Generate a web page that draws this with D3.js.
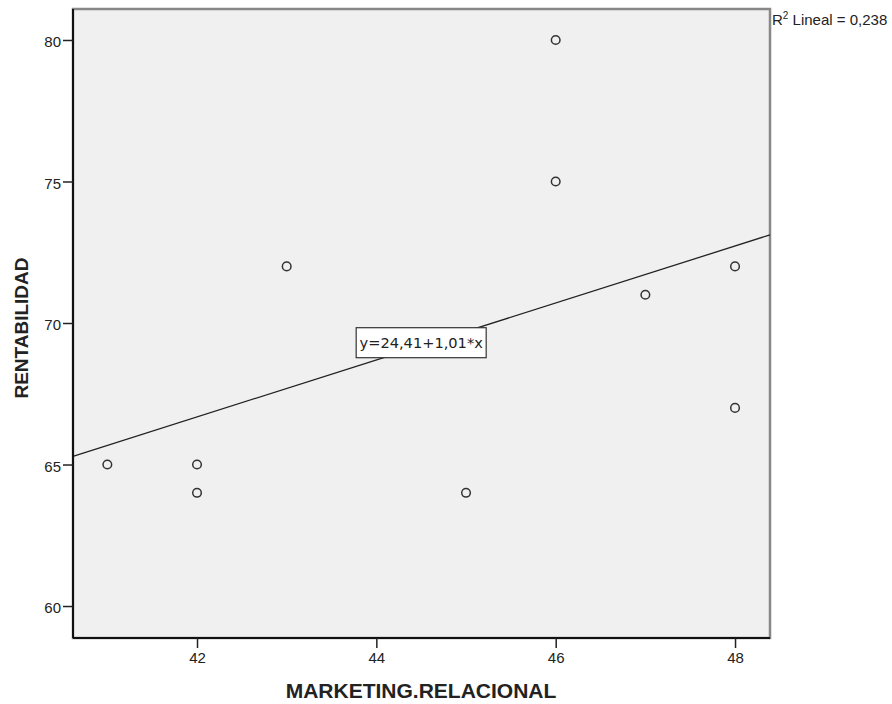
<!DOCTYPE html>
<html>
<head>
<meta charset="utf-8">
<script src="https://cdn.jsdelivr.net/npm/d3@7"></script>
<style>
	body { margin: 0; background: #fff; }
	svg { display: block; font-family: 'Liberation Sans', Arial, sans-serif; }
	.tick text { font-size: 15px; fill: #222; font-family: 'Liberation Sans', Arial, sans-serif; }
</style>
</head>
<body>
<script>
const marketing = [41, 42, 42, 43, 45, 46, 46, 47, 48, 48]
const rentabilidad = [65, 65, 64, 72, 64, 80, 75, 71, 72, 67]
const xTicks = [42, 44, 46, 48]
const yTicks = [60, 65, 70, 75, 80]
const r2Value = 0.238

const width = 892, height = 704
const plot = { left: 73, top: 9, right: 770, bottom: 638 }

// least squares fit
const mx = d3.mean(marketing), my = d3.mean(rentabilidad)
const slope = d3.sum(marketing, (d, i) => (d - mx) * (rentabilidad[i] - my)) / d3.sum(marketing, d => (d - mx) ** 2)
const intercept = my - slope * mx

const svg = d3.select('body').append('svg').attr('width', width).attr('height', height)

const x = d3.scaleLinear().domain([40.617, 48.39]).range([plot.left, plot.right])
const y = d3.scaleLinear().domain([58.87, 81.095]).range([plot.bottom, plot.top])

svg.append('rect')
	.attr('x', plot.left).attr('y', plot.top)
	.attr('width', plot.right - plot.left).attr('height', plot.bottom - plot.top)
	.attr('fill', '#f0f0f0')
	.attr('stroke', '#888').attr('stroke-width', 2.5)

const [x0, x1] = x.domain()
svg.append('line')
	.attr('x1', x(x0)).attr('y1', y(intercept + slope * x0))
	.attr('x2', x(x1)).attr('y2', y(intercept + slope * x1))
	.attr('stroke', '#222').attr('stroke-width', 1.3)

svg.append('g').attr('transform', `translate(0,${plot.bottom})`)
	.call(d3.axisBottom(x).tickValues(xTicks).tickSize(10).tickSizeOuter(0).tickPadding(4))
	.call(g => g.select('.domain').attr('stroke', '#111').attr('stroke-width', 2).attr('d', `M${plot.left},0H${plot.right}`))
	.call(g => g.selectAll('.tick line').attr('stroke', '#222').attr('stroke-width', 1.5))
svg.append('g').attr('transform', `translate(${plot.left},0)`)
	.call(d3.axisLeft(y).tickValues(yTicks).tickSize(10).tickSizeOuter(0).tickPadding(2))
	.call(g => g.select('.domain').attr('stroke', '#111').attr('stroke-width', 2).attr('d', `M0,${plot.top}V${plot.bottom}`))
	.call(g => g.selectAll('.tick line').attr('stroke', '#222').attr('stroke-width', 1.5))
	.call(g => g.selectAll('.tick text').attr('dy', '0.45em'))

svg.append('g').selectAll('circle').data(marketing).join('circle')
	.attr('cx', d => x(d))
	.attr('cy', (_, i) => y(rentabilidad[i]))
	.attr('r', 4.3)
	.attr('fill', 'none')
	.attr('stroke', '#333').attr('stroke-width', 1.5)

// equation label
const fmt = v => v.toFixed(2).replace('.', ',')
const lx = 44.5
const label = svg.append('g').attr('transform', `translate(${x(lx)},${y(intercept + slope * lx) - 3})`)
label.append('rect')
	.attr('x', -65).attr('y', -15).attr('width', 130).attr('height', 30)
	.attr('fill', '#fff').attr('stroke', '#333').attr('stroke-width', 1.2)
label.append('text')
	.attr('text-anchor', 'middle').attr('dy', '0.36em')
	.attr('font-family', "'DejaVu Sans', sans-serif")
	.attr('font-size', 14.6).attr('fill', '#222')
	.text(`y=${fmt(intercept)}+${fmt(slope)}*x`)

const r2 = svg.append('text').attr('x', plot.right + 2).attr('y', 25).attr('font-size', 15).attr('fill', '#222')
r2.append('tspan').text('R')
r2.append('tspan').attr('dy', -6).attr('font-size', 10).text('2')
r2.append('tspan').attr('dy', 6).text(' Lineal = ' + r2Value.toFixed(3).replace('.', ','))

svg.append('text')
	.attr('x', 421).attr('y', 698)
	.attr('text-anchor', 'middle').attr('font-size', 21).attr('font-weight', 'bold').attr('fill', '#222')
	.text('MARKETING.RELACIONAL')
svg.append('text')
	.attr('transform', `translate(28,328) rotate(-90)`)
	.attr('text-anchor', 'middle').attr('font-size', 19).attr('font-weight', 'bold').attr('fill', '#222')
	.text('RENTABILIDAD')
</script>
</body>
</html>
